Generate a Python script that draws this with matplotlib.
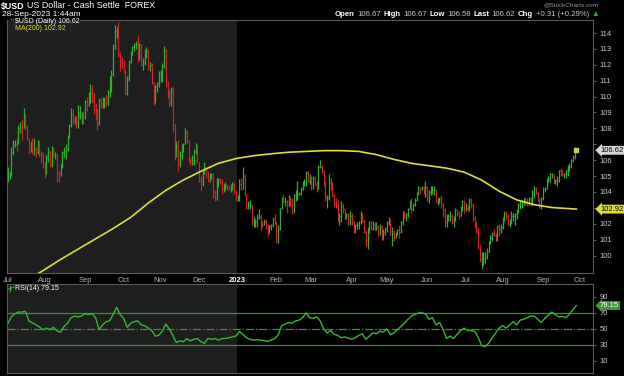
import matplotlib

matplotlib.use("Agg")

import matplotlib.pyplot as plt
import matplotlib.transforms as mtrans
from matplotlib.lines import Line2D
import numpy as np
import pandas as pd

plt.rcParams["font.family"] = ["Liberation Sans", "DejaVu Sans"]

# daily bars, 2022-07-01 .. 2023-09-28 (one row per month)
closes = [
    105.1, 105.1, 106.5, 107.0, 107.0, 106.9, 108.0, 108.1, 108.0, 108.6, 108.1, 107.4, 106.7, 107.0, 106.6, 106.7, 106.5, 107.2, 106.4, 106.3, 105.9,
    105.4, 106.2, 106.5, 105.7, 106.6, 106.4, 106.4, 105.2, 105.1, 105.6, 106.5, 106.6, 106.7, 107.5, 108.2, 108.9, 108.5, 108.6, 108.4, 108.8, 108.8, 108.8, 108.7,
    109.7, 109.5, 109.9, 110.2, 109.7, 109.5, 109.0, 108.3, 109.8, 109.6, 109.7, 109.8, 109.6, 110.2, 111.2, 111.4, 113.2, 114.1, 114.1, 112.6, 112.2, 112.1,
    111.7, 110.2, 111.2, 112.2, 112.8, 113.1, 113.2, 113.3, 112.4, 113.3, 112.0, 112.1, 112.9, 112.9, 111.9, 112.0, 110.9, 109.7, 110.6, 110.8, 111.5,
    111.5, 111.9, 112.9, 110.8, 110.1, 109.6, 110.4, 108.2, 106.3, 106.9, 106.3, 106.3, 106.7, 107.0, 107.8, 107.2, 106.1, 106.0, 106.0, 106.6, 106.8, 105.9,
    104.7, 104.5, 105.3, 105.6, 105.1, 104.8, 104.9, 105.1, 104.0, 103.6, 104.5, 104.7, 104.6, 104.2, 104.2, 104.4, 104.3, 104.2, 104.2, 104.5, 104.0, 103.5,
    103.6, 104.5, 104.2, 105.0, 103.9, 103.0, 103.2, 103.2, 102.2, 102.2, 102.2, 102.4, 102.4, 102.1, 102.0, 102.1, 101.9, 101.6, 101.8, 101.9, 102.3, 102.1,
    101.2, 101.7, 103.0, 103.6, 103.4, 103.4, 103.2, 103.6, 103.3, 103.2, 103.8, 103.8, 103.9, 103.9, 104.2, 104.6, 104.6, 105.2, 104.7, 104.9,
    104.4, 104.9, 104.5, 104.3, 105.6, 105.6, 105.3, 104.6, 103.6, 103.6, 104.6, 104.4, 103.8, 103.3, 103.2, 102.5, 102.5, 103.1, 102.9, 102.4, 102.6, 102.1, 102.5,
    102.1, 101.6, 101.9, 101.9, 102.1, 102.6, 102.2, 101.5, 101.0, 101.6, 102.1, 101.7, 101.9, 101.8, 101.8, 101.4, 101.8, 101.5, 101.5, 101.7,
    102.1, 102.2, 101.4, 101.4, 101.3, 101.4, 101.6, 101.5, 102.1, 102.7, 102.4, 102.6, 102.9, 103.2, 102.9, 103.2, 103.5, 103.9, 104.3, 104.2, 104.3, 104.1, 104.3,
    103.6, 104.0, 104.0, 104.1, 104.1, 103.4, 103.5, 103.6, 103.3, 102.9, 102.1, 102.3, 102.5, 102.5, 102.1, 102.4, 102.9, 102.7, 102.5, 103.0, 103.4, 102.9,
    103.0, 102.9, 103.4, 103.2, 102.3, 101.9, 101.7, 100.6, 99.8, 99.8, 99.8, 99.9, 100.2, 100.8, 101.1, 101.4, 101.3, 101.0, 101.8, 101.7, 101.8,
    102.3, 102.6, 102.5, 102.0, 102.1, 102.5, 102.5, 102.6, 102.8, 103.2, 103.2, 103.4, 103.6, 103.4, 103.3, 103.6, 103.4, 104.0, 104.2, 104.0, 103.5, 103.2, 103.6,
    104.2, 104.2, 104.8, 104.8, 105.1, 105.1, 104.6, 104.7, 104.7, 105.4, 105.3, 105.1, 105.2, 105.4, 105.4, 105.6, 106.0, 106.2, 106.31, 106.62,
]
highs = [
    105.6, 105.3, 106.8, 107.3, 107.3, 107.4, 108.2, 108.4, 108.6, 109.3, 108.9, 108.2, 107.4, 107.2, 107.4, 107.4, 106.8, 107.3, 107.3, 106.6, 106.5,
    105.9, 106.4, 106.8, 106.6, 106.9, 106.8, 106.5, 106.4, 105.4, 105.8, 106.6, 106.8, 107.0, 107.6, 108.3, 109.3, 109.2, 108.8, 108.8, 109.5, 109.4, 109.0, 109.1,
    109.8, 110.0, 110.3, 110.8, 110.7, 110.2, 109.6, 109.2, 109.9, 109.9, 110.0, 110.0, 110.1, 110.4, 111.3, 111.7, 113.3, 114.5, 114.4, 114.7, 112.8, 112.5,
    112.3, 111.7, 111.3, 112.3, 112.9, 113.2, 113.4, 113.5, 113.9, 113.4, 113.3, 112.4, 113.0, 113.1, 113.0, 112.2, 112.1, 110.9, 110.7, 110.9, 111.6,
    111.7, 112.1, 113.2, 113.0, 111.0, 110.4, 110.6, 110.6, 108.3, 107.2, 107.3, 106.6, 107.0, 107.1, 108.0, 107.9, 107.3, 106.2, 106.3, 106.7, 107.1, 107.0,
    105.9, 105.0, 105.4, 105.9, 105.6, 105.3, 105.2, 105.2, 105.2, 104.1, 104.9, 104.9, 104.9, 104.8, 104.5, 104.6, 104.5, 104.4, 104.5, 104.6, 104.6, 104.1,
    103.8, 104.8, 104.9, 105.6, 105.1, 103.9, 103.4, 103.5, 103.2, 102.5, 102.3, 102.6, 102.9, 102.6, 102.2, 102.3, 102.3, 102.0, 101.9, 102.0, 102.4, 102.6,
    102.2, 101.9, 103.0, 103.7, 103.9, 103.7, 103.5, 103.8, 103.7, 103.6, 103.9, 104.1, 104.7, 104.0, 104.3, 104.7, 104.8, 105.3, 105.3, 105.1,
    105.0, 105.0, 105.0, 104.7, 105.7, 106.0, 105.7, 105.4, 104.7, 103.8, 105.1, 104.9, 104.6, 103.9, 103.6, 103.5, 102.7, 103.4, 103.3, 102.9, 102.7, 102.7, 102.8,
    102.7, 102.2, 102.0, 102.1, 102.2, 102.8, 102.7, 102.3, 101.6, 101.8, 102.2, 102.2, 102.2, 102.1, 102.1, 101.9, 102.0, 101.9, 101.7, 101.8,
    102.2, 102.4, 102.3, 101.8, 101.6, 101.5, 101.7, 101.9, 102.2, 102.8, 102.8, 102.7, 103.0, 103.5, 103.6, 103.3, 103.6, 104.0, 104.4, 104.3, 104.4, 104.4, 104.7,
    104.4, 104.1, 104.4, 104.4, 104.4, 104.2, 103.6, 103.7, 103.8, 103.3, 103.0, 102.6, 102.6, 102.8, 102.6, 102.5, 103.0, 102.9, 102.8, 103.1, 103.5, 103.5,
    103.3, 103.2, 103.6, 103.6, 103.3, 102.5, 102.1, 101.8, 100.7, 100.2, 100.2, 100.2, 100.5, 100.9, 101.3, 101.5, 101.7, 101.4, 101.9, 102.0, 102.0,
    102.4, 102.8, 102.8, 102.6, 102.3, 102.8, 102.7, 102.7, 102.9, 103.3, 103.4, 103.5, 103.6, 103.7, 103.6, 103.7, 103.7, 104.1, 104.4, 104.3, 104.0, 103.6, 103.7,
    104.3, 104.3, 104.9, 105.0, 105.2, 105.2, 105.1, 104.8, 105.0, 105.4, 105.5, 105.4, 105.2, 105.4, 105.7, 105.8, 106.1, 106.3, 106.8, 106.67,
]
lows = [
    104.6, 104.8, 105.0, 106.3, 106.8, 106.6, 107.0, 107.7, 107.3, 108.0, 107.9, 107.3, 106.4, 106.5, 106.4, 106.3, 106.2, 106.4, 106.2, 105.8, 105.5,
    104.9, 105.1, 105.9, 105.6, 105.6, 106.2, 106.1, 104.6, 104.6, 105.0, 105.5, 106.2, 106.1, 106.6, 107.4, 108.1, 108.3, 108.3, 108.0, 108.0, 108.6, 108.3, 108.3,
    108.6, 109.1, 109.4, 109.6, 109.6, 108.9, 108.6, 107.9, 108.2, 109.3, 109.3, 109.3, 109.4, 109.5, 110.0, 110.3, 111.3, 113.0, 113.7, 112.5, 111.6, 111.8,
    111.5, 110.1, 110.1, 111.0, 112.1, 112.6, 112.9, 113.0, 112.2, 112.3, 111.9, 111.7, 112.0, 112.4, 111.7, 111.6, 110.8, 109.5, 109.6, 110.3, 110.6,
    110.9, 110.9, 111.8, 110.6, 109.9, 109.4, 109.4, 107.8, 106.0, 106.2, 105.3, 105.6, 106.1, 106.5, 107.0, 107.1, 105.9, 105.7, 105.7, 105.7, 106.4, 105.8,
    104.6, 104.1, 104.4, 105.1, 104.9, 104.6, 104.6, 104.8, 103.6, 103.4, 103.5, 104.3, 104.5, 103.9, 104.0, 104.1, 104.1, 104.1, 104.0, 104.1, 103.9, 103.4,
    103.4, 103.4, 104.1, 104.2, 103.8, 102.9, 102.9, 102.9, 101.9, 101.8, 101.8, 101.8, 102.3, 101.6, 101.8, 101.9, 101.7, 101.2, 101.4, 101.6, 101.8, 102.0,
    100.8, 100.8, 101.6, 102.9, 103.3, 103.1, 102.7, 103.1, 103.1, 102.6, 102.7, 103.4, 103.5, 103.8, 103.8, 104.1, 104.4, 104.4, 104.6, 104.5,
    104.1, 104.2, 104.4, 104.0, 104.2, 105.5, 105.2, 104.4, 103.4, 103.0, 103.5, 104.1, 103.7, 103.1, 103.0, 102.2, 101.9, 102.1, 102.7, 102.3, 102.3, 101.9, 101.9,
    101.9, 101.4, 101.4, 101.7, 101.7, 102.0, 102.1, 101.4, 100.6, 100.4, 101.4, 101.6, 101.6, 101.6, 101.6, 101.2, 101.3, 101.0, 101.0, 101.3,
    101.5, 101.9, 101.3, 100.6, 100.9, 101.1, 101.3, 101.1, 101.4, 101.9, 102.3, 102.2, 102.4, 102.9, 102.7, 102.8, 103.1, 103.4, 103.8, 103.9, 104.1, 103.9, 103.7,
    103.4, 103.3, 103.8, 103.9, 103.8, 103.3, 103.2, 103.3, 103.0, 102.4, 101.8, 101.8, 102.2, 102.2, 102.0, 101.8, 102.2, 102.5, 102.3, 102.5, 102.8, 102.7,
    102.8, 102.8, 102.8, 103.0, 102.2, 101.8, 101.4, 100.4, 99.6, 99.2, 99.4, 99.5, 99.8, 100.2, 100.7, 100.9, 101.2, 100.9, 100.9, 101.2, 101.4,
    101.7, 102.2, 102.3, 101.9, 101.8, 102.0, 102.2, 101.9, 102.3, 102.7, 102.9, 103.0, 103.2, 103.2, 103.1, 103.2, 103.1, 103.2, 103.6, 103.9, 103.4, 103.0, 102.9,
    103.5, 104.0, 104.2, 104.6, 104.6, 104.9, 104.5, 104.5, 104.4, 104.6, 105.0, 105.0, 104.9, 104.9, 105.0, 105.3, 105.5, 105.9, 106.1, 106.58,
]

# 200-day moving average, read every 10 bars
ma_bar = [0, 10, 20, 30, 40, 50, 60, 70, 80, 90, 100, 110, 120, 130, 140, 150, 160, 170,
          180, 190, 200, 210, 220, 230, 240, 250, 260, 270, 280, 290, 300, 310, 320, 324]
ma200 = [97.7, 98.4, 99.05, 99.75, 100.4, 101.05, 101.7, 102.4, 103.3, 104.1, 104.75, 105.3,
         105.8, 106.1, 106.28, 106.4, 106.5, 106.55, 106.6, 106.6, 106.55, 106.35, 106.05,
         105.8, 105.65, 105.5, 105.25, 104.75, 104.05, 103.5, 103.2, 103.02, 102.95, 102.92]

# RSI(14), read every 2 bars
rsi14 = [
    57, 65, 69, 71, 71, 72, 60, 57.5, 55, 52.5,
    49, 51, 49, 52, 47.5, 46, 53, 57, 64, 66,
    65, 66, 69, 68, 69, 64, 49, 55, 59, 60,
    68, 77, 68, 63, 52, 57, 59, 60, 55, 54,
    51, 48, 41, 42, 47, 56, 50, 42, 33, 35,
    34, 38, 35, 37, 38, 34, 32, 38, 37, 38,
    36, 38, 38, 39, 40, 41, 47, 43, 39, 37,
    36, 36.5, 36, 35.5, 34.5, 36, 38, 42, 54, 56,
    58, 57, 60, 61, 64, 70, 64, 63, 65,
    60, 50, 45, 48, 43, 42, 39, 40, 38.5, 37,
    39, 42, 44, 37, 41, 45, 44, 47, 46, 50,
    43, 45, 49, 53, 57, 62, 66, 68, 70, 70,
    69, 62, 64, 55, 58, 50, 38, 41, 38, 43,
    48, 51, 48, 48, 47, 40, 29, 28, 32, 39,
    45, 51, 54, 51, 55, 59, 55, 61, 62, 64,
    66, 66, 62, 58, 63, 67, 71, 68, 65, 65.5,
    64, 68, 74, 79.15,
]
rsi_bar = list(range(0, 325, 2))

W, H = 624, 376
GREEN = "#2fae2f"
RED = "#cc2424"
YELLOW = "#dcdc40"
PANEL_GREY = "#1e1e1e"
TXT = "#c8c8c8"


def fx(px):
    return px / W


def fy(py):
    return 1 - py / H


def draw_runs(fig, x_px, y_px, runs, size):
    r = fig.canvas.get_renderer()
    x = x_px
    for s, weight, color in runs:
        t = fig.text(fx(x), fy(y_px), s, fontsize=size, fontweight=weight,
                     color=color, va="center", ha="left")
        x += t.get_window_extent(renderer=r).width + 2.5
    return x


def style(ax):
    ax.set_facecolor("black")
    for sp in ax.spines.values():
        sp.set_color("#5a5a5a")
        sp.set_linewidth(0.8)
    ax.yaxis.tick_right()
    ax.tick_params(axis="y", colors="#777777", labelcolor=TXT, labelsize=5.5,
                   length=2, width=0.6, pad=3)


def main():
    dates = pd.bdate_range("2022-07-01", periods=len(closes))
    idx = np.arange(len(dates))
    c = np.array(closes)
    up = np.concatenate([[True], c[1:] >= c[:-1]])
    colors = np.where(up, GREEN, RED)

    # month ticks at first trading day of each month
    all_days = pd.bdate_range("2022-07-01", "2023-10-31")
    first = ~all_days.to_period("M").duplicated()
    month_pos = np.flatnonzero(first)
    month_lab = ["2023" if d.month == 1 else d.strftime("%b") for d in all_days[first]]

    fig = plt.figure(figsize=(W / 100, H / 100), dpi=100, facecolor="black")
    ax = fig.add_axes([fx(7), fy(273), fx(586), 253 / H])
    ax2 = fig.add_axes([fx(7), fy(373), fx(586), 89 / H])
    xlim = (-0.5, 333.5)
    split = month_pos[month_lab.index("2023")] - 0.5

    # price panel
    style(ax)
    ax.axvspan(xlim[0], split, color=PANEL_GREY, zorder=0, lw=0)
    ax.vlines(idx, lows, highs, colors=colors, linewidth=0.9, zorder=2)
    ax.hlines(c, idx, idx + 0.45, colors=colors, linewidth=0.8, zorder=2)
    ax.plot(ma_bar, ma200, color=YELLOW, lw=1.2, zorder=3)
    ax.plot(idx[-1], c[-1], "s", color="#c8d040", ms=2.6, zorder=4)
    ax.set_xlim(xlim)
    ax.set_ylim(98.9, 114.82)
    ticks = list(range(100, 115))
    ax.set_yticks(ticks, ["" if t in (103, 107) else str(t) for t in ticks])
    ax.set_xticks(month_pos, month_lab)
    ax.tick_params(axis="x", length=0, pad=3, labelsize=5.5, labelcolor="#b4b4b4")
    for t in ax.get_xticklabels():
        if t.get_text() == "2023":
            t.set_fontweight("bold")
            t.set_color("white")

    # RSI panel
    style(ax2)
    ax2.axvspan(xlim[0], split, color=PANEL_GREY, zorder=0, lw=0)
    for lvl, ls in ((70, "-"), (30, "-"), (50, "-.")):
        ax2.axhline(lvl, color="#2e9a2e", lw=0.9, ls=ls, zorder=1)
    ax2.plot(rsi_bar, rsi14, color="#35b835", lw=1.0, zorder=2)
    ax2.set_xlim(xlim)
    ax2.set_ylim(-5, 106)
    ax2.set_yticks([10, 30, 50, 70, 90])
    ax2.set_xticks([])

    # value tags on the right axis
    for a, val, txt, fc, tc in ((ax, c[-1], f"{c[-1]:.2f}", "#d8d8d8", "black"),
                                (ax, ma200[-1], f"{ma200[-1]:.2f}", YELLOW, "black"),
                                (ax2, rsi14[-1], f"{rsi14[-1]:.2f}", "#3a9a3a", "white")):
        tr = mtrans.blended_transform_factory(a.transAxes, a.transData)
        a.text(1.012, val, txt, transform=tr, fontsize=5.5, color=tc, va="center",
               ha="left", clip_on=False, zorder=5,
               bbox=dict(boxstyle="larrow,pad=0.12", fc=fc, ec="none"))

    # legends
    fig.patches.append(plt.Rectangle((fx(8), fy(35)), fx(72), 15 / H, transform=fig.transFigure,
                                     fc="#202020", ec="none", zorder=3))
    for xo, col in ((10.5, GREEN), (12.5, RED)):
        fig.add_artist(Line2D([fx(xo), fx(xo)], [fy(24), fy(19)], color=col, lw=0.9))
    fig.text(fx(15), fy(21.5), "$USD (Daily) 106.62", fontsize=5, color="white", va="center")
    fig.add_artist(Line2D([fx(9), fx(14)], [fy(28.5), fy(28.5)], color=YELLOW, lw=1.2))
    fig.text(fx(15), fy(28.5), f"MA(200) {ma200[-1]:.2f}", fontsize=5, color=YELLOW, va="center")

    fig.add_artist(Line2D([fx(10), fx(10)], [fy(291), fy(286)], color=GREEN, lw=0.9))
    fig.add_artist(Line2D([fx(9), fx(14)], [fy(289), fy(287)], color=GREEN, lw=0.9))
    fig.text(fx(15), fy(288.5), f"RSI(14) {rsi14[-1]:.2f}", fontsize=5, color="white", va="center")

    # header
    draw_runs(fig, 1, 6, [("$USD", "bold", "white"), ("US Dollar - Cash Settle  FOREX", "normal", "white")], 6.4)
    fig.text(fx(1.5), fy(14), "28-Sep-2023 1:44am", fontsize=6, color="white", va="center")
    fig.text(fx(598), fy(5), "@StockCharts.com", fontsize=4.6, color="#9a9a9a", va="center", ha="right")
    runs = [("Open", "bold", "white"), ("106.67", "normal", TXT),
            ("High", "bold", "white"), ("106.67", "normal", TXT),
            ("Low", "bold", "white"), ("106.58", "normal", TXT),
            ("Last", "bold", "white"), ("106.62", "normal", TXT),
            ("Chg", "bold", "white"), ("+0.31 (+0.29%)", "normal", TXT),
            ("\u25b2", "normal", GREEN)]
    draw_runs(fig, 335, 15, runs, 5.6)

    fig.savefig("out.png", dpi=100, facecolor="black")
    plt.close(fig)
    return 0


if __name__ == "__main__":
    raise SystemExit(main())
